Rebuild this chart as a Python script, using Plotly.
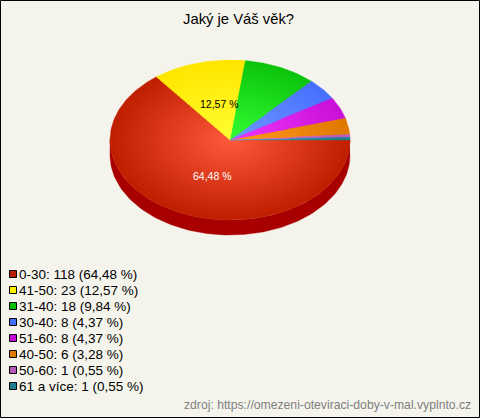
import math
import plotly.graph_objects as go

TITLE = "Jaký je Váš věk?"
SOURCE = "zdroj: https://omezeni-oteviraci-doby-v-mal.vyplnto.cz"
categories = ["0-30", "41-50", "31-40", "30-40", "51-60", "40-50", "50-60", "61 a více"]
counts = [118, 23, 18, 8, 8, 6, 1, 1]
percent_labels = ["64,48", "12,57", "9,84", "4,37", "4,37", "3,28", "0,55", "0,55"]
edge_colors = ["#c02000", "#ffe600", "#0cc40c", "#4870ff", "#c810d8", "#e07800", "#b858b8", "#1c7c90"]
center_colors = ["#ff5a3c", "#ffff33", "#36ff36", "#7098ff", "#f038ff", "#ff9c20", "#e080e0", "#3ca0b4"]
swatch_colors = ["#b81c00", "#ffee00", "#00c000", "#4870ff", "#c800d8", "#e07800", "#b858b8", "#1c7c90"]
WALL_COLOR = "#a80000"
BG = "#f5f4ec"

W, H = 480, 418
CX, CY, RX, RY, DEPTH = 230, 140, 120, 80, 15
STEPS = 22

def mix(a, b, t):
    ca = [int(a[i:i+2], 16) for i in (1, 3, 5)]
    cb = [int(b[i:i+2], 16) for i in (1, 3, 5)]
    return "rgb(%d,%d,%d)" % tuple(round(x + (y - x) * t) for x, y in zip(ca, cb))

def wedge(a0, a1, r=1.0, cy=CY):
    n = max(2, int(abs(a1 - a0) * 60))
    xs, ys = [CX], [cy]
    for i in range(n + 1):
        a = a0 + (a1 - a0) * i / n
        xs.append(CX + RX * r * math.cos(a))
        ys.append(cy + RY * r * math.sin(a))
    xs.append(CX); ys.append(cy)
    return xs, ys

def poly(xs, ys, color):
    return go.Scatter(x=xs, y=ys, mode="lines", fill="toself", fillcolor=color,
                      line=dict(width=0.4, color=color), hoverinfo="skip", showlegend=False)

fig = go.Figure()

# wall
tx = [CX + RX * math.cos(math.pi * i / 120) for i in range(121)]
ty = [CY + RY * math.sin(math.pi * i / 120) for i in range(121)]
wx = tx + tx[::-1]
wy = [y + DEPTH for y in ty] + ty[::-1]
fig.add_trace(poly(wx, wy, WALL_COLOR))

total = sum(counts)
bounds = [0.0]
for v in counts:
    bounds.append(bounds[-1] + v / total * 2 * math.pi)

for s in range(STEPS):
    r = 1 - s / STEPS
    t = 1 - r
    for i in range(len(counts)):
        xs, ys = wedge(bounds[i], bounds[i + 1], r)
        fig.add_trace(poly(xs, ys, mix(edge_colors[i], center_colors[i], t)))

ann = []
def text(x, y, s, size, color, anchor="left"):
    ann.append(dict(x=x, y=y, xref="x", yref="y", text=s, showarrow=False, xanchor=anchor, yanchor="middle",
                    xshift=0, yshift=0, borderpad=0, borderwidth=0,
                    font=dict(family="Liberation Sans", size=size, color=color)))

text(238, 19, TITLE, 14.8, "#000000", "center")
text(219, 104, percent_labels[1] + " %", 10.5, "#000000", "center")
text(212, 176, percent_labels[0] + " %", 10.5, "#ffffff", "center")
text(471, 405, SOURCE, 12.2, "#808080", "right")

shapes = []
for i, c in enumerate(categories):
    y = 274 + 16 * i
    shapes.append(dict(type="rect", xref="x", yref="y", x0=9.5, x1=16.5, y0=y - 3.5, y1=y + 3.5,
                       fillcolor=swatch_colors[i], line=dict(color="#000000", width=1)))
    text(19, y, f"{c}: {counts[i]} ({percent_labels[i]} %)", 13.5, "#000000")

shapes.append(dict(type="rect", xref="x", yref="y", x0=0.5, x1=W - 0.5, y0=0.5, y1=H - 0.5,
                   line=dict(color="#000000", width=1), fillcolor="rgba(0,0,0,0)"))

fig.update_layout(width=W, height=H, margin=dict(l=0, r=0, t=0, b=0),
                  paper_bgcolor=BG, plot_bgcolor=BG, showlegend=False,
                  xaxis=dict(range=[0, W], visible=False, fixedrange=True),
                  yaxis=dict(range=[H, 0], visible=False, fixedrange=True),
                  annotations=ann, shapes=shapes)
fig.write_html("out.html", config=dict(displayModeBar=False),
               post_script="document.body.style.margin='0';document.documentElement.style.overflow='hidden';")
